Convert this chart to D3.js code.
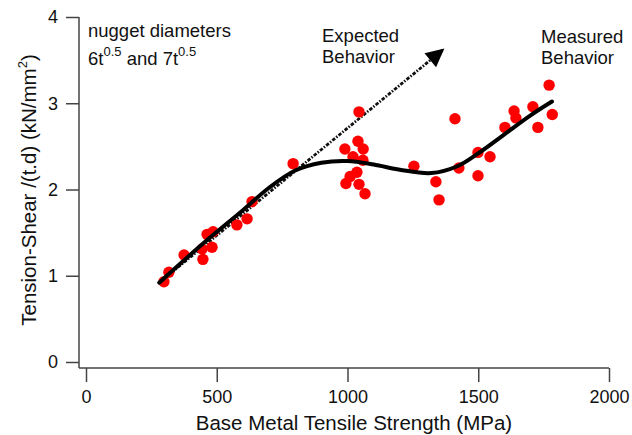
<!DOCTYPE html>
<html>
<head>
<meta charset="utf-8">
<script src="https://cdn.jsdelivr.net/npm/d3@7"></script>
<style>
body { margin: 0; background: #fff; }
text { font-family: "Liberation Sans", Arial, sans-serif; fill: #111; }
</style>
</head>
<body>
<script>
var width = 632, height = 435;

// measured points (tensile strength MPa, tension-shear kN/mm2)
var strength = [298, 317, 375, 447, 444, 463, 486, 482, 577, 616, 635,
    792, 1044, 990, 1040, 1060, 1021, 1059, 1036, 1010, 994, 1044, 1067,
    1411, 1254, 1338, 1350, 1426, 1499, 1499, 1545,
    1602, 1637, 1644, 1709, 1728, 1771, 1783];
var shear = [0.93, 1.04, 1.24, 1.19, 1.31, 1.48, 1.51, 1.33, 1.59, 1.66, 1.86,
    2.30, 2.90, 2.47, 2.56, 2.47, 2.38, 2.34, 2.20, 2.15, 2.07, 2.06, 1.95,
    2.82, 2.27, 2.09, 1.88, 2.25, 2.16, 2.43, 2.38,
    2.72, 2.91, 2.83, 2.96, 2.72, 3.21, 2.87];

// measured behaviour trend curve
var trendX = [280, 450, 600, 700, 800, 900, 1000, 1100, 1200, 1320, 1420, 1500, 1600, 1700, 1782];
var trendY = [0.92, 1.38, 1.76, 2.02, 2.22, 2.31, 2.33, 2.29, 2.23, 2.19, 2.27, 2.42, 2.64, 2.86, 3.02];

// expected behaviour arrow
var expectedX = [280, 1365];
var expectedY = [0.92, 3.62];

var xTicks = [0, 500, 1000, 1500, 2000];
var yTicks = [0, 1, 2, 3, 4];

var x = d3.scaleLinear().domain([0, 2000]).range([86, 609]);
var y = d3.scaleLinear().domain([0, 4]).range([362, 17]);

var svg = d3.select("body").append("svg")
    .attr("width", width).attr("height", height);

var axisColor = "#444";

// axes
var xAxis = svg.append("g").attr("transform", "translate(0,368)")
    .call(d3.axisBottom(x).tickValues(xTicks).tickSize(14).tickPadding(8).tickFormat(d3.format("d")));
var yAxis = svg.append("g").attr("transform", "translate(79,0)")
    .call(d3.axisLeft(y).tickValues(yTicks).tickSize(13).tickPadding(8).tickFormat(d3.format("d")));
[xAxis, yAxis].forEach(function(a){
    a.select(".domain").remove();
    a.selectAll("line").attr("stroke", axisColor).attr("stroke-width", 1.5);
    a.selectAll("text").style("font-size", "18px").attr("fill", "#111");
});
svg.append("line").attr("x1", 79).attr("x2", x(2000)).attr("y1", 368).attr("y2", 368)
    .attr("stroke", axisColor).attr("stroke-width", 1.5);
svg.append("line").attr("x1", 79).attr("x2", 79).attr("y1", y(4)).attr("y2", 368)
    .attr("stroke", axisColor).attr("stroke-width", 1.5);

// axis titles
svg.append("text").attr("x", 354).attr("y", 430).attr("text-anchor", "middle")
    .style("font-size", "20.5px").text("Base Metal Tensile Strength (MPa)");
var yt = svg.append("text").attr("transform", "translate(36,190) rotate(-90)")
    .attr("text-anchor", "middle").style("font-size", "20.5px");
yt.append("tspan").text("Tension-Shear /(t.d) (kN/mm");
yt.append("tspan").attr("dy", -9).style("font-size", "13px").text("2");
yt.append("tspan").attr("dy", 9).text(")");

// expected behaviour arrow
svg.append("defs").append("marker").attr("id", "head")
    .attr("viewBox", "0 0 10 10").attr("refX", 9).attr("refY", 5)
    .attr("markerWidth", 7).attr("markerHeight", 6.5).attr("markerUnits", "strokeWidth")
    .attr("orient", "auto")
    .append("path").attr("d", "M0,0L10,5L0,10Z").attr("fill", "#000");
svg.append("line")
    .attr("x1", x(expectedX[0])).attr("y1", y(expectedY[0]))
    .attr("x2", x(expectedX[1])).attr("y2", y(expectedY[1]))
    .attr("stroke", "#111").attr("stroke-width", 2.8)
    .attr("stroke-dasharray", "3.5,1.5,1.5,1.5")
    .attr("marker-end", "url(#head)");

// points
svg.append("g").selectAll("circle").data(strength).enter().append("circle")
    .attr("cx", function(d){return x(d);})
    .attr("cy", function(d, i){return y(shear[i]);})
    .attr("r", 5.7).attr("fill", "#ff0000");

// trend
var line = d3.line().curve(d3.curveCatmullRom.alpha(0.5))
    .x(function(d){return x(d);}).y(function(d, i){return y(trendY[i]);});
svg.append("path").attr("d", line(trendX)).attr("fill", "none")
    .attr("stroke", "#000").attr("stroke-width", 4).attr("stroke-linecap", "round");

// annotations
svg.append("text").attr("x", 88).attr("y", 37).style("font-size", "18.5px").text("nugget diameters");
var nd = svg.append("text").attr("x", 88).attr("y", 65).style("font-size", "18.5px");
nd.append("tspan").text("6t");
nd.append("tspan").attr("dy", -9).style("font-size", "13px").text("0.5");
nd.append("tspan").attr("dy", 9).text(" and 7t");
nd.append("tspan").attr("dy", -9).style("font-size", "13px").text("0.5");

svg.append("text").attr("x", 322).attr("y", 42).style("font-size", "18.5px").text("Expected");
svg.append("text").attr("x", 322).attr("y", 63).style("font-size", "18.5px").text("Behavior");
svg.append("text").attr("x", 541).attr("y", 43).style("font-size", "18.5px").text("Measured");
svg.append("text").attr("x", 541).attr("y", 64).style("font-size", "18.5px").text("Behavior");
</script>
</body>
</html>
